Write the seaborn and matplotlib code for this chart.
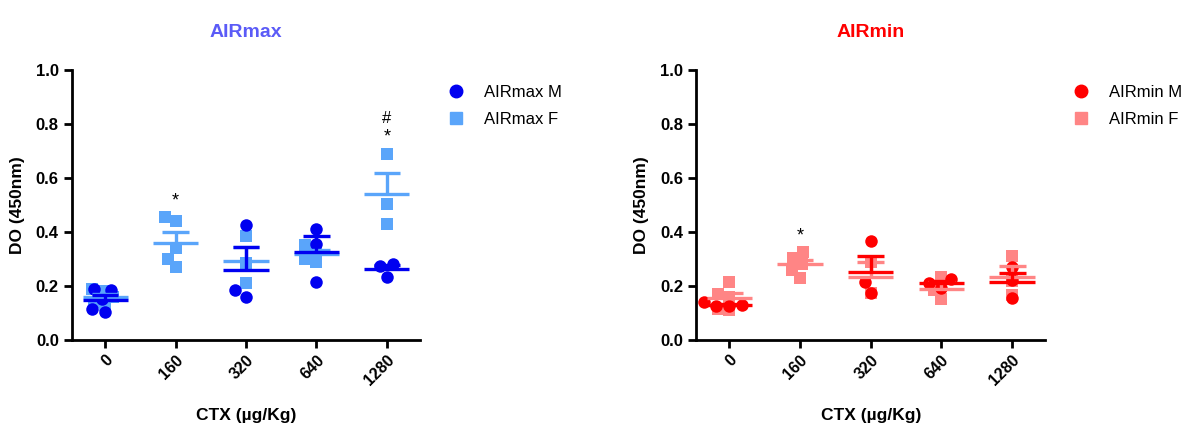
import numpy as np
import pandas as pd
import matplotlib
matplotlib.use("Agg")
import matplotlib.pyplot as plt
from matplotlib.lines import Line2D
import seaborn as sns

sns.set_style("white")
plt.rcParams['font.family'] = ['Liberation Sans', 'DejaVu Sans']
plt.rcParams['text.color'] = 'black'
plt.rcParams['axes.labelcolor'] = 'black'
plt.rcParams['xtick.color'] = 'black'
plt.rcParams['ytick.color'] = 'black'

# ---------------- data ----------------
doses = ["0", "160", "320", "640", "1280"]

airmax_M = [[0.185, 0.187, 0.15, 0.105, 0.115], [], [0.427, 0.186, 0.161],
            [0.41, 0.355, 0.215], [0.283, 0.273, 0.233]]
airmax_F = [[0.19, 0.18, 0.16, 0.14, 0.13], [0.455, 0.44, 0.34, 0.30, 0.27],
            [0.385, 0.285, 0.211], [0.30, 0.29, 0.34, 0.35], [0.69, 0.503, 0.43]]
airmin_M = [[0.125, 0.14, 0.125, 0.13], [], [0.365, 0.215, 0.174],
            [0.194, 0.227, 0.211], [0.27, 0.223, 0.155]]
airmin_F = [[0.215, 0.17, 0.16, 0.11, 0.115], [0.325, 0.305, 0.28, 0.26, 0.23],
            [0.29, 0.175], [0.233, 0.153, 0.184], [0.31, 0.22, 0.165]]

airmax_marks = {"160": ["*"], "1280": ["*", "#"]}
airmin_marks = {"160": ["*"]}

yticks = [0.0, 0.2, 0.4, 0.6, 0.8, 1.0]


def long_df(groups):
    rows = []
    for d, vals in zip(doses, groups):
        for v in vals:
            rows.append((d, v))
    return pd.DataFrame(rows, columns=["dose", "value"])


fig = plt.figure(figsize=(11.96, 4.32), dpi=100)
ax1 = fig.add_axes([0.0602, 0.213, 0.291, 0.625])
ax2 = fig.add_axes([0.582, 0.213, 0.292, 0.625])

panels = [
    (ax1, "AIRmax", "#5B5BF7", airmax_M, airmax_F, "#0000F0", "#5AA5FA", airmax_marks),
    (ax2, "AIRmin", "#FF0000", airmin_M, airmin_F, "#FF0000", "#FF8585", airmin_marks),
]

for ax, title, tcol, gM, gF, cM, cF, marks in panels:
    dfM = long_df(gM)
    dfF = long_df(gF)
    sns.swarmplot(data=dfF, x="dose", y="value", order=doses, color=cF,
                  marker="s", size=8, linewidth=0, ax=ax, warn_thresh=1, zorder=2)
    sns.swarmplot(data=dfM, x="dose", y="value", order=doses, color=cM,
                  marker="o", size=9, linewidth=0, ax=ax, warn_thresh=1, zorder=3)
    for df, col, z in [(dfF, cF, 4), (dfM, cM, 5)]:
        stats = df.groupby("dose")["value"].agg(["mean", "sem"])
        for i, d in enumerate(doses):
            if d not in stats.index:
                continue
            m = stats.loc[d, "mean"]
            s = stats.loc[d, "sem"]
            ax.hlines(m, i - 0.32, i + 0.32, color=col, lw=2.4, zorder=z)
            ax.vlines(i, m, m + s, color=col, lw=2.4, zorder=z)
            ax.hlines(m + s, i - 0.19, i + 0.19, color=col, lw=2.4, zorder=z)
    # significance marks
    allg = [a + b for a, b in zip(gM, gF)]
    for i, d in enumerate(doses):
        if d in marks:
            top = max(allg[i])
            for k, sym in enumerate(marks[d]):
                ax.text(i, top + 0.06 + 0.07 * k, sym, ha="center", va="center",
                        fontsize=13 if sym == "*" else 12, color="black")

    ax.set_xlim(-0.47, 4.47)
    ax.set_ylim(0, 1.0)
    ax.set_yticks(yticks)
    ax.set_yticklabels([f"{t:.1f}" for t in yticks], fontsize=12, fontweight="bold")
    ax.set_xticks(range(len(doses)))
    ax.set_xticklabels(doses, rotation=45, ha="right", rotation_mode="anchor",
                       fontsize=11.5, fontweight="bold")
    ax.set_xlabel("CTX (\u00b5g/Kg)", fontsize=12.5, fontweight="bold", labelpad=14)
    ax.set_ylabel("DO (450nm)", fontsize=12.5, fontweight="bold", labelpad=8)
    ax.set_title(title, fontsize=14, fontweight="bold", color=tcol, pad=24)
    for sp in ["top", "right"]:
        ax.spines[sp].set_visible(False)
    for sp in ["left", "bottom"]:
        ax.spines[sp].set_linewidth(2)
        ax.spines[sp].set_color("black")
    ax.tick_params(axis="both", direction="out", length=6, width=2, color="black",
                   labelcolor="black", bottom=True, left=True)
    ax.tick_params(axis="x", pad=3)
    ax.grid(False)

    handles = [
        Line2D([], [], marker="o", color=cM, linestyle="none", markersize=9),
        Line2D([], [], marker="s", color=cF, linestyle="none", markersize=8),
    ]
    ax.legend(handles, [f"{title} M", f"{title} F"], loc="upper left",
              bbox_to_anchor=(1.035, 1.0), frameon=False, fontsize=12,
              handletextpad=1.2, labelspacing=0.7, handlelength=1.0)

fig.savefig("out.png", dpi=100)
